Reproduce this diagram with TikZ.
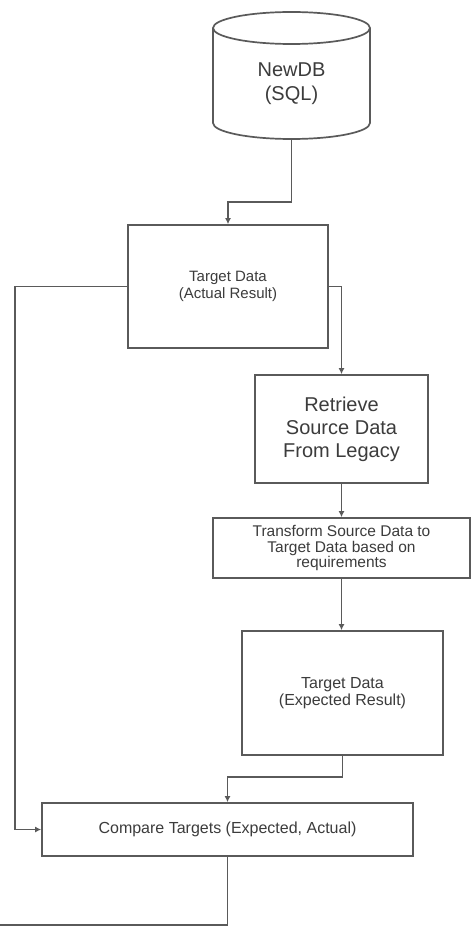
\documentclass[tikz,border=0pt]{standalone}
\usepackage{fontspec}
\setmainfont{Liberation Sans}
\usetikzlibrary{arrows.meta}
\definecolor{linegray}{HTML}{5A5A5A}
\definecolor{textgray}{HTML}{3C3C3C}
\begin{document}
\begin{tikzpicture}[x=1pt,y=-1pt,
  box/.style={draw=linegray, line width=1.7pt, rectangle, inner sep=0pt,
              align=center, text=textgray},
  link/.style={draw=linegray, line width=1.7pt},
  arr/.style={link, -{Latex[length=6pt,width=6pt]}},
  bigtext/.style={font=\fontsize{20}{24}\selectfont},
  midtext/.style={font=\fontsize{15}{17}\selectfont}]
\useasboundingbox (0,0) rectangle (476,939);
\fill[white] (0,0) rectangle (476,939);

% database cylinder
\draw[linegray, line width=1.7pt, fill=white]
  (213,28) -- (213,123) arc[start angle=180, end angle=360, x radius=78.5, y radius=-16]
  -- (370,28);
\draw[linegray, line width=1.7pt] (291.5,28) ellipse[x radius=78.5, y radius=16];
\node[text=textgray, align=center, bigtext] (db) at (291.5,84) {NewDB\\(SQL)};
\coordinate (dbbot) at (291.5,139);

% process boxes
\node[box, minimum width=200, minimum height=123, midtext] (act) at (228,286.5)
  {Target Data\\(Actual Result)};
\node[box, minimum width=173, minimum height=108,
      font=\fontsize{20}{23}\selectfont] (ret) at (341.5,429)
  {Retrieve\\Source Data\\From Legacy};
\node[box, minimum width=257, minimum height=60,
      font=\fontsize{15.5}{15.5}\selectfont] (trn) at (341.5,548)
  {Transform Source Data to\\Target Data based on\\requirements};
\node[box, minimum width=201, minimum height=124,
      font=\fontsize{16}{17}\selectfont] (exp) at (342.5,693)
  {Target Data\\(Expected Result)};
\node[box, minimum width=371, minimum height=53,
      font=\fontsize{16}{18}\selectfont] (cmp) at (227.5,829.5)
  {Compare Targets (Expected, Actual)};

% routing points
\coordinate (j1) at (291.5,202);
\coordinate (lft) at (15,500);
\coordinate (j2) at (227.5,777);
\coordinate (out) at (0,925);

% connectors
\draw[arr] (dbbot) -- (j1) -| (act.north);
\draw[arr] (act.east) -| (ret.north);
\draw[arr] (act.west) -| (lft) |- (cmp.west);
\draw[arr] (ret.south) -- (trn.north);
\draw[arr] (trn.south) -- (trn.south |- exp.north);
\draw[arr] (exp.south) |- (j2) -- (cmp.north);
\draw[link] (cmp.south) |- (out);
\end{tikzpicture}
\end{document}
